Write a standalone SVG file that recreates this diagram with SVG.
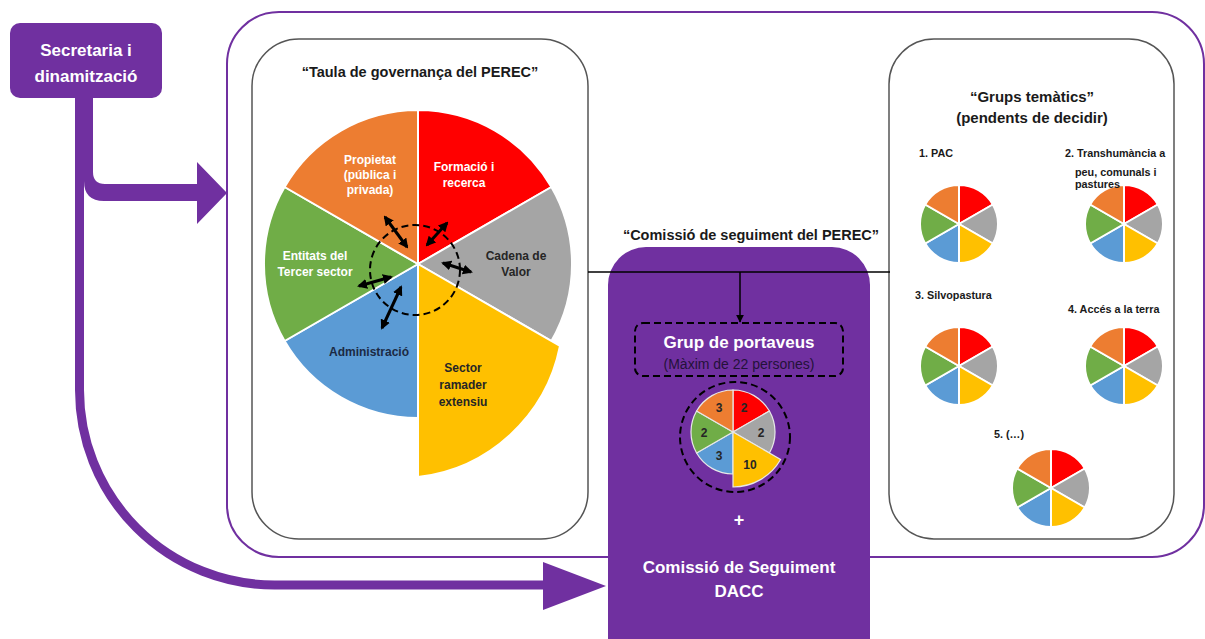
<svg xmlns="http://www.w3.org/2000/svg" width="1205" height="639" viewBox="0 0 1205 639">
<style>
text{font-family:"Liberation Sans",Arial,sans-serif;font-weight:bold}
.box{fill:#fff;stroke:#555;stroke-width:1.5}
.ttl{font-size:14.5px;fill:#1a1a1a;text-anchor:middle}
.pl{font-size:12px;text-anchor:middle}
.w{fill:#fff}
.d{fill:#262626}
.sm{font-size:10.8px;fill:#1a1a1a}
.num{font-size:12px;fill:#262626;text-anchor:middle}
.sep{stroke:#fff;stroke-width:2}
.sep2{stroke:#e8e8e8;stroke-width:1.2}
.r{fill:#FF0000}.g{fill:#A5A5A5}.y{fill:#FFC000}.b{fill:#5B9BD5}.gr{fill:#70AD47}.o{fill:#ED7D31}
.purple{fill:#7030A0}
.dash{fill:none;stroke:#000;stroke-width:2;stroke-dasharray:7 4}
.dbl{stroke:#000;stroke-width:3;fill:none;marker-start:url(#dh);marker-end:url(#dh)}
</style>
<defs>
<marker id="dh" viewBox="0 0 10 10" refX="8" refY="5" markerWidth="10" markerHeight="10" markerUnits="userSpaceOnUse" orient="auto-start-reverse"><path d="M0,0 L10,5 L0,10 z" fill="#000"/></marker>
<marker id="ah" viewBox="0 0 10 10" refX="9" refY="5" markerWidth="8" markerHeight="8" markerUnits="userSpaceOnUse" orient="auto"><path d="M0,0 L10,5 L0,10 z" fill="#000"/></marker>
<g id="minipie" class="sep">
<path class="r" d="M0,0 L0,-39 A39,39 0 0,1 33.8,-19.5 Z"/>
<path class="g" d="M0,0 L33.8,-19.5 A39,39 0 0,1 33.8,19.5 Z"/>
<path class="y" d="M0,0 L33.8,19.5 A39,39 0 0,1 0,39 Z"/>
<path class="b" d="M0,0 L0,39 A39,39 0 0,1 -33.8,19.5 Z"/>
<path class="gr" d="M0,0 L-33.8,19.5 A39,39 0 0,1 -33.8,-19.5 Z"/>
<path class="o" d="M0,0 L-33.8,-19.5 A39,39 0 0,1 0,-39 Z"/>
</g>
</defs>

<g id="outer">
<rect x="227" y="12" width="977" height="545" rx="52" ry="52" fill="none" stroke="#7030A0" stroke-width="2"/>
</g>

<g id="secretaria">
<rect x="10" y="23" width="152" height="75" rx="10" ry="10" class="purple"/>
<text x="86" y="56" font-size="17" class="w" text-anchor="middle">Secretaria i</text>
<text x="86" y="82" font-size="17" class="w" text-anchor="middle">dinamització</text>
</g>

<g id="taula">
<rect x="252" y="39" width="336" height="500" rx="47" ry="47" class="box"/>
<text x="420" y="77" class="ttl">“Taula de governança del PEREC”</text>
<g class="sep">
<path class="r" d="M418,264 L418,110 A154,154 0 0,1 551.4,187 Z"/>
<path class="g" d="M418,264 L551.4,187 A154,154 0 0,1 551.4,341 Z"/>
<path class="b" d="M418,264 L418,418 A154,154 0 0,1 284.6,341 Z"/>
<path class="gr" d="M418,264 L284.6,341 A154,154 0 0,1 284.6,187 Z"/>
<path class="o" d="M418,264 L284.6,187 A154,154 0 0,1 418,110 Z"/>
<path class="y" d="M418,264 L560,346 A164,164 0 0,1 418,477 Z"/>
</g>
<text class="pl w" x="370" y="164">Propietat</text>
<text class="pl w" x="370" y="179">(pública i</text>
<text class="pl w" x="370" y="194">privada)</text>
<text class="pl w" x="464" y="171">Formació i</text>
<text class="pl w" x="464" y="187">recerca</text>
<text class="pl d" x="516" y="260">Cadena de</text>
<text class="pl d" x="516" y="276">Valor</text>
<text class="pl w" x="315" y="260">Entitats del</text>
<text class="pl w" x="315" y="276">Tercer sector</text>
<text class="pl" x="369" y="356" fill="#1b2a44">Administració</text>
<text class="pl d" x="463" y="372">Sector</text>
<text class="pl d" x="463" y="389">ramader</text>
<text class="pl d" x="463" y="406">extensiu</text>
<circle cx="415" cy="270" r="45" class="dash"/>
<line class="dbl" x1="385" y1="217" x2="407" y2="247"/>
<line class="dbl" x1="447" y1="223" x2="427" y2="245"/>
<line class="dbl" x1="443" y1="263" x2="471" y2="272"/>
<line class="dbl" x1="359" y1="286" x2="391" y2="277"/>
<line class="dbl" x1="401" y1="287" x2="382" y2="328"/>
</g>

<g id="grups">
<rect x="889" y="39" width="285" height="500" rx="45" ry="45" class="box"/>
<text x="1032" y="102" font-size="15" fill="#1a1a1a" text-anchor="middle">“Grups temàtics”</text>
<text x="1032" y="123" font-size="15" fill="#1a1a1a" text-anchor="middle">(pendents de decidir)</text>
<g id="g1"><text class="sm" x="919" y="157">1. PAC</text><use href="#minipie" transform="translate(959,224)"/></g>
<g id="g2"><use href="#minipie" transform="translate(1124,224)"/><text class="sm" x="1065" y="157">2. Transhumància a</text><text class="sm" x="1075" y="175.5">peu, comunals i</text><text class="sm" x="1075" y="188">pastures</text></g>
<g id="g3"><text class="sm" x="915" y="299">3. Silvopastura</text><use href="#minipie" transform="translate(959,366)"/></g>
<g id="g4"><text class="sm" x="1068" y="313">4. Accés a la terra</text><use href="#minipie" transform="translate(1124,366)"/></g>
<g id="g5"><text class="sm" x="994" y="438">5. (…)</text><use href="#minipie" transform="translate(1051,488)"/></g>
</g>

<g id="comissio">
<text x="751" y="240" class="ttl">“Comissió de seguiment del PEREC”</text>
<rect x="608" y="247" width="262" height="440" rx="38" ry="38" class="purple"/>
<rect x="635" y="323" width="208" height="53" rx="8" ry="8" class="dash"/>
<text x="739" y="348" font-size="17" class="w" text-anchor="middle">Grup de portaveus</text>
<text x="739" y="369" font-size="14" style="font-weight:normal" fill="#24123a" text-anchor="middle">(Màxim de 22 persones)</text>
<g class="sep2">
<path class="r" d="M733,432 L733,390 A42,42 0 0,1 769.4,411 Z"/>
<path class="g" d="M733,432 L769.4,411 A42,42 0 0,1 769.4,453 Z"/>
<path class="b" d="M733,432 L733,474 A42,42 0 0,1 696.6,453 Z"/>
<path class="gr" d="M733,432 L696.6,453 A42,42 0 0,1 696.6,411 Z"/>
<path class="o" d="M733,432 L696.6,411 A42,42 0 0,1 733,390 Z"/>
<path class="y" d="M733,432 L780.6,459.5 A55,55 0 0,1 733,487 Z"/>
</g>
<text class="num" x="719" y="412">3</text>
<text class="num" x="744" y="412">2</text>
<text class="num" x="761" y="437">2</text>
<text class="num" x="704" y="437">2</text>
<text class="num" x="719" y="460">3</text>
<text class="num" x="750" y="469">10</text>
<circle cx="735" cy="437" r="55" class="dash"/>
<text x="739" y="526" font-size="18" class="w" text-anchor="middle">+</text>
<text x="739" y="573" font-size="17" class="w" text-anchor="middle">Comissió de Seguiment</text>
<text x="739" y="597" font-size="17" class="w" text-anchor="middle">DACC</text>
</g>

<g id="connectors">
<path class="purple" d="M75,97 H93 V172 Q93,184 105,184 H197 V162 L227,193 L197,224 V201 H104 Q84,201 84,181 V210 H75 Z"/>
<path d="M79.5,205 V390 A195,195 0 0,0 274.5,585 H548" fill="none" stroke="#7030A0" stroke-width="9"/>
<polygon class="purple" points="543,562 606,586 543,610"/>
<line x1="588" y1="272" x2="890" y2="272" stroke="#000" stroke-width="1.5"/>
<line x1="740" y1="272" x2="740" y2="322" stroke="#000" stroke-width="1.5" marker-end="url(#ah)"/>
</g>
</svg>
